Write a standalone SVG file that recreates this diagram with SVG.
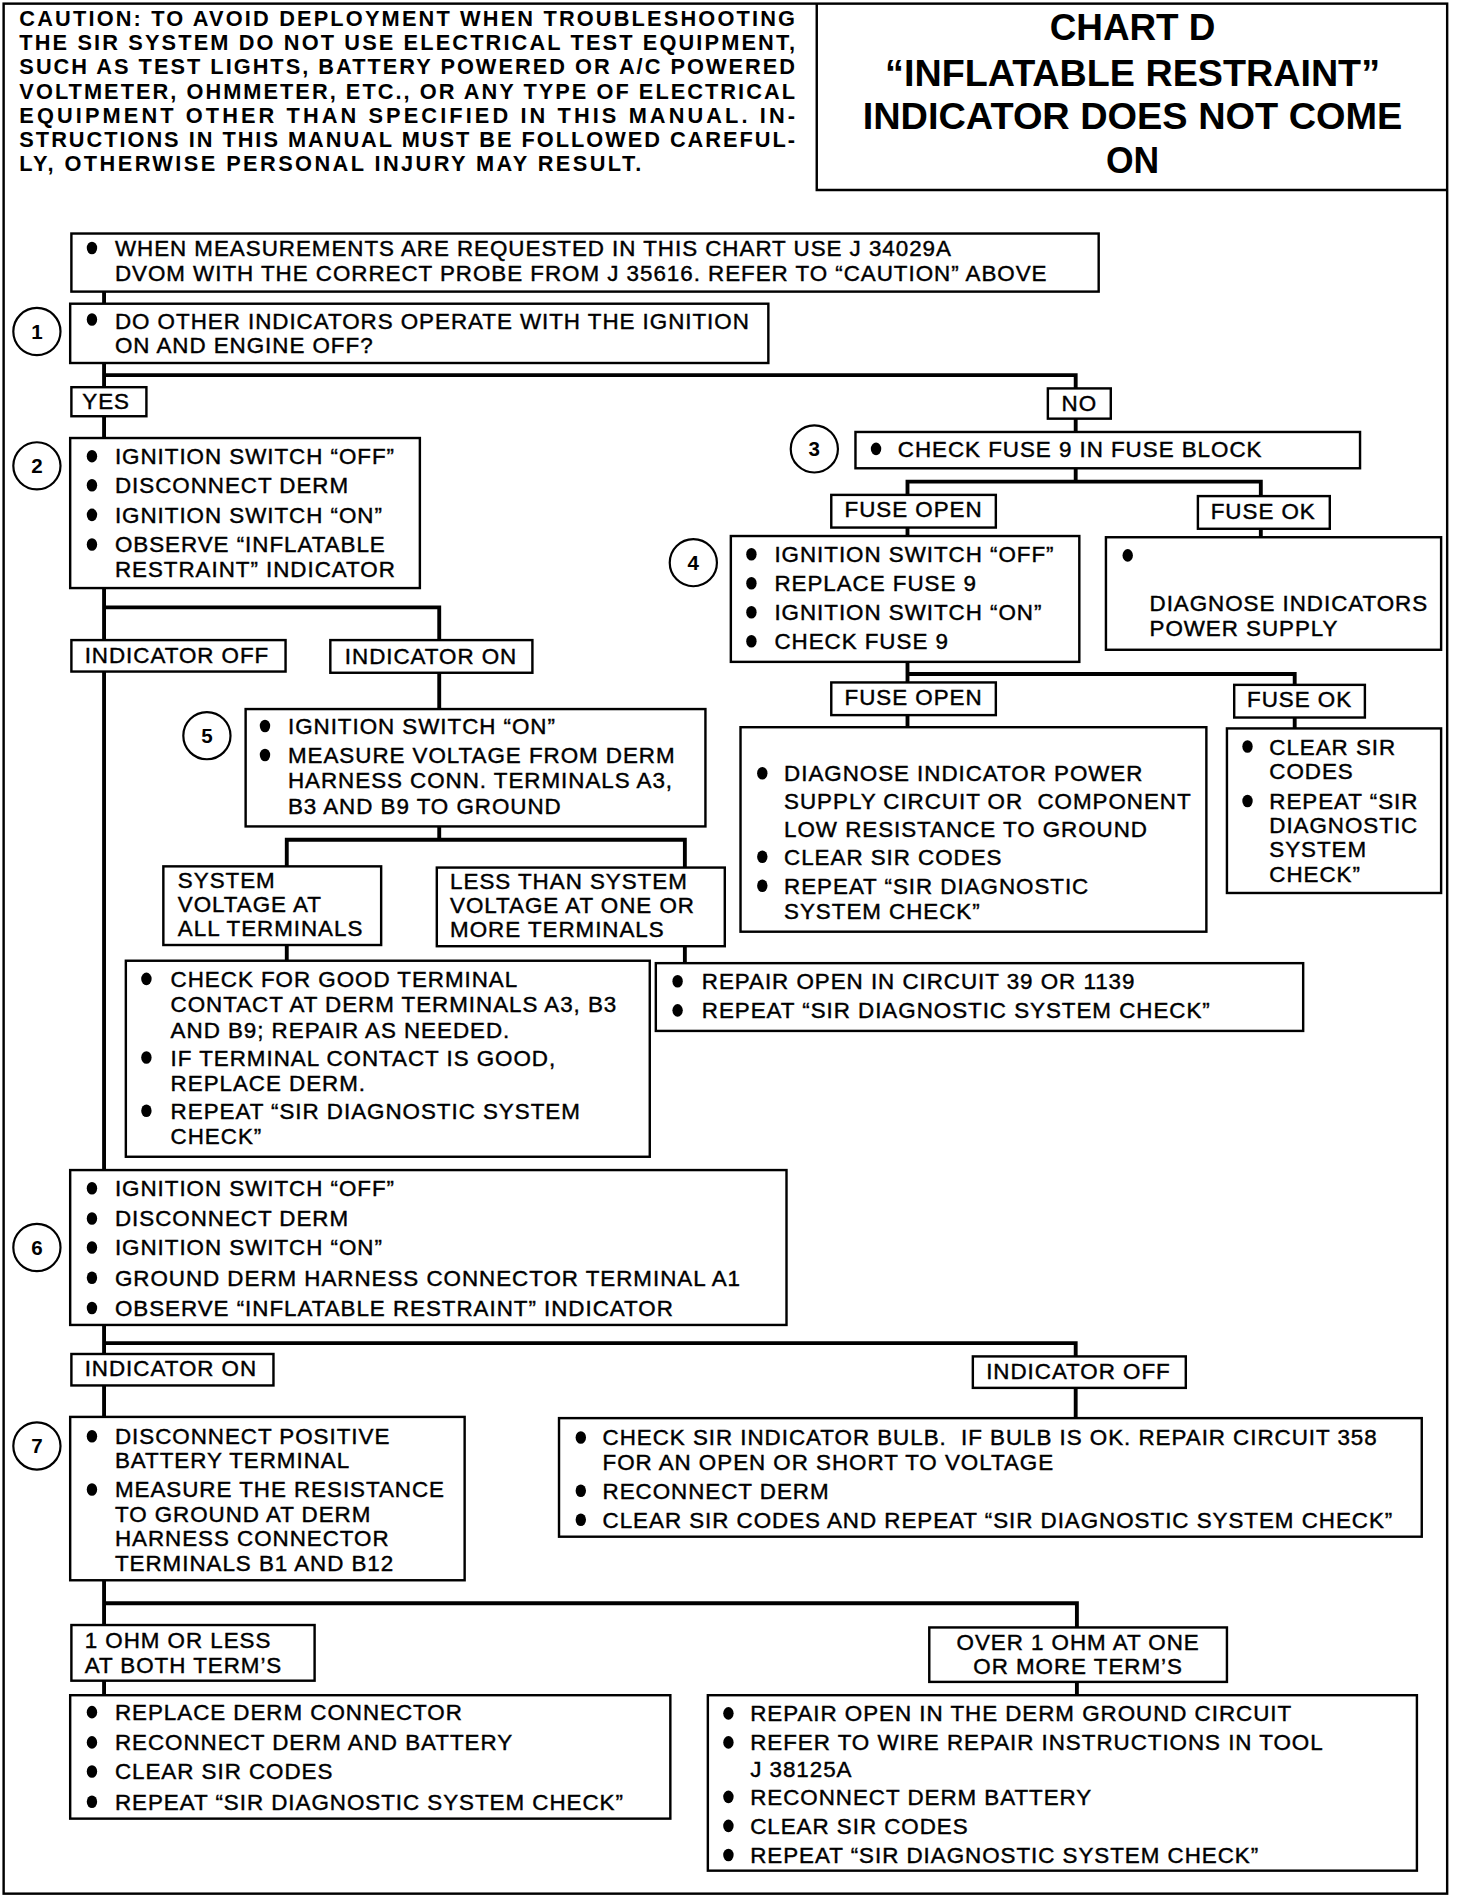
<svg xmlns="http://www.w3.org/2000/svg" width="1472" height="1900" viewBox="0 0 1472 1900">
<style>
.bx{fill:#fff;stroke:#000;stroke-width:2}
.fr{fill:none;stroke:#000;stroke-width:2}
.cn{fill:none;stroke:#000;stroke-width:3.2}
.t{font-family:"Liberation Sans",Arial,Helvetica,sans-serif;font-size:18.5px;letter-spacing:0.8px;fill:#000;stroke:#000;stroke-width:0.35px}
.tm{text-anchor:middle}
.cau{font-family:"Liberation Sans",Arial,Helvetica,sans-serif;font-size:18px;font-weight:bold;fill:#000}
.ttl{font-family:"Liberation Sans",Arial,Helvetica,sans-serif;font-size:31px;font-weight:bold;text-anchor:middle;fill:#000}
.num{font-family:"Liberation Sans",Arial,Helvetica,sans-serif;font-size:17px;font-weight:bold;text-anchor:middle;fill:#000}
.ring{fill:#fff;stroke:#000;stroke-width:1.8}
</style>
<defs><ellipse id="d" rx="4.3" ry="5.2" fill="#000"/></defs>
<rect width="1472" height="1900" fill="#fff"/>
<g transform="scale(1.21)">
<g id="frame">
<rect class="fr" x="3" y="3" width="1193" height="1562"/>
<path class="fr" d="M675 3V157H1196"/>
</g>
<g id="caution">
<text class="cau" x="16" y="21.5" textLength="641" lengthAdjust="spacing">CAUTION: TO AVOID DEPLOYMENT WHEN TROUBLESHOOTING</text>
<text class="cau" x="16" y="41.5" textLength="641" lengthAdjust="spacing">THE SIR SYSTEM DO NOT USE ELECTRICAL TEST EQUIPMENT,</text>
<text class="cau" x="16" y="61.5" textLength="641" lengthAdjust="spacing">SUCH AS TEST LIGHTS, BATTERY POWERED OR A/C POWERED</text>
<text class="cau" x="16" y="81.5" textLength="641" lengthAdjust="spacing">VOLTMETER, OHMMETER, ETC., OR ANY TYPE OF ELECTRICAL</text>
<text class="cau" x="16" y="101.5" textLength="641" lengthAdjust="spacing">EQUIPMENT OTHER THAN SPECIFIED IN THIS MANUAL. IN-</text>
<text class="cau" x="16" y="121.5" textLength="641" lengthAdjust="spacing">STRUCTIONS IN THIS MANUAL MUST BE FOLLOWED CAREFUL-</text>
<text class="cau" x="16" y="141.5" textLength="514" lengthAdjust="spacing">LY, OTHERWISE PERSONAL INJURY MAY RESULT.</text>
</g>
<g id="title">
<text class="ttl" x="936" y="33" textLength="137" lengthAdjust="spacingAndGlyphs">CHART D</text>
<text class="ttl" x="936" y="71" textLength="409" lengthAdjust="spacingAndGlyphs">“INFLATABLE RESTRAINT”</text>
<text class="ttl" x="936" y="107" textLength="446" lengthAdjust="spacingAndGlyphs">INDICATOR DOES NOT COME</text>
<text class="ttl" x="936" y="143" textLength="44" lengthAdjust="spacingAndGlyphs">ON</text>
</g>
<g id="connectors">
<path class="cn" d="M86 241V251"/>
<path class="cn" d="M86 300V320"/>
<path class="cn" d="M86 310H889V321"/>
<path class="cn" d="M86 344V362"/>
<path class="cn" d="M86 486V529"/>
<path class="cn" d="M86 502H363V529"/>
<path class="cn" d="M86 555V967"/>
<path class="cn" d="M363 556V586"/>
<path class="cn" d="M363 683V694"/>
<path class="cn" d="M237 716V694H566V717"/>
<path class="cn" d="M237 781V794"/>
<path class="cn" d="M566 782V796"/>
<path class="cn" d="M889 346V357"/>
<path class="cn" d="M889 387V398"/>
<path class="cn" d="M750 409V398H1042V410"/>
<path class="cn" d="M750 436V443"/>
<path class="cn" d="M1042 437V444"/>
<path class="cn" d="M750 547V564"/>
<path class="cn" d="M750 557H1070V566"/>
<path class="cn" d="M750 591V601"/>
<path class="cn" d="M1070 593V602"/>
<path class="cn" d="M86 1095V1119"/>
<path class="cn" d="M86 1110H889V1121"/>
<path class="cn" d="M86 1145V1171"/>
<path class="cn" d="M889 1147V1172"/>
<path class="cn" d="M86 1306V1343"/>
<path class="cn" d="M86 1325H890V1345"/>
<path class="cn" d="M86 1389V1401"/>
<path class="cn" d="M890 1390V1401"/>
</g>
<g id="nA">
<rect class="bx" x="59" y="193" width="849" height="48"/>
<use href="#d" x="76" y="205"/>
<text class="t" x="95" y="211.6">WHEN MEASUREMENTS ARE REQUESTED IN THIS CHART USE J 34029A</text>
<text class="t" x="95" y="232.6">DVOM WITH THE CORRECT PROBE FROM J 35616. REFER TO “CAUTION” ABOVE</text>
</g>
<g id="n1">
<rect class="bx" x="58" y="251" width="577" height="49"/>
<use href="#d" x="76" y="264"/>
<text class="t" x="95" y="271.6">DO OTHER INDICATORS OPERATE WITH THE IGNITION</text>
<text class="t" x="95" y="291.6">ON AND ENGINE OFF?</text>
<circle class="ring" cx="30.5" cy="274" r="19.5"/><text class="num" x="30.5" y="280">1</text>
</g>
<g id="yes"><rect class="bx" x="59" y="320" width="62" height="24"/><text class="t" x="68" y="338">YES</text></g>
<g id="no"><rect class="bx" x="866" y="321" width="52" height="25"/><text class="t tm" x="892" y="340">NO</text></g>
<g id="n2">
<rect class="bx" x="58" y="362" width="289" height="124"/>
<use href="#d" x="76" y="377"/><use href="#d" x="76" y="401"/><use href="#d" x="76" y="425.5"/><use href="#d" x="76" y="450"/>
<text class="t" x="95" y="383.6">IGNITION SWITCH “OFF”</text>
<text class="t" x="95" y="407.6">DISCONNECT DERM</text>
<text class="t" x="95" y="432.1">IGNITION SWITCH “ON”</text>
<text class="t" x="95" y="456.6">OBSERVE “INFLATABLE</text>
<text class="t" x="95" y="476.6">RESTRAINT” INDICATOR</text>
<circle class="ring" cx="30.5" cy="385" r="19.5"/><text class="num" x="30.5" y="391">2</text>
</g>
<g id="indOff1"><rect class="bx" x="59" y="529" width="177" height="26"/><text class="t" x="70" y="548">INDICATOR OFF</text></g>
<g id="indOn1"><rect class="bx" x="273" y="529" width="167" height="27"/><text class="t" x="285" y="549">INDICATOR ON</text></g>
<g id="n5">
<rect class="bx" x="203" y="586" width="380" height="97"/>
<use href="#d" x="219" y="600"/><use href="#d" x="219" y="624"/>
<text class="t" x="238" y="606.6">IGNITION SWITCH “ON”</text>
<text class="t" x="238" y="630.6">MEASURE VOLTAGE FROM DERM</text>
<text class="t" x="238" y="651.6">HARNESS CONN. TERMINALS A3,</text>
<text class="t" x="238" y="672.6">B3 AND B9 TO GROUND</text>
<circle class="ring" cx="171" cy="608" r="19.5"/><text class="num" x="171" y="614">5</text>
</g>
<g id="sysV">
<rect class="bx" x="135" y="716" width="180" height="65"/>
<text class="t" x="147" y="733.6">SYSTEM</text>
<text class="t" x="147" y="753.6">VOLTAGE AT</text>
<text class="t" x="147" y="773.6">ALL TERMINALS</text>
</g>
<g id="lessV">
<rect class="bx" x="361" y="717" width="238" height="65"/>
<text class="t" x="372" y="734.6">LESS THAN SYSTEM</text>
<text class="t" x="372" y="754.6">VOLTAGE AT ONE OR</text>
<text class="t" x="372" y="774.6">MORE TERMINALS</text>
</g>
<g id="nCheck">
<rect class="bx" x="104" y="794" width="433" height="162"/>
<use href="#d" x="121" y="809"/><use href="#d" x="121" y="874"/><use href="#d" x="121" y="918"/>
<text class="t" x="141" y="815.6">CHECK FOR GOOD TERMINAL</text>
<text class="t" x="141" y="836.6">CONTACT AT DERM TERMINALS A3, B3</text>
<text class="t" x="141" y="857.6">AND B9; REPAIR AS NEEDED.</text>
<text class="t" x="141" y="880.6">IF TERMINAL CONTACT IS GOOD,</text>
<text class="t" x="141" y="901.6">REPLACE DERM.</text>
<text class="t" x="141" y="924.6">REPEAT “SIR DIAGNOSTIC SYSTEM</text>
<text class="t" x="141" y="945.6">CHECK”</text>
</g>
<g id="nRepair39">
<rect class="bx" x="542" y="796" width="535" height="56"/>
<use href="#d" x="560" y="811"/><use href="#d" x="560" y="835"/>
<text class="t" x="580" y="817.6">REPAIR OPEN IN CIRCUIT 39 OR 1139</text>
<text class="t" x="580" y="841.6">REPEAT “SIR DIAGNOSTIC SYSTEM CHECK”</text>
</g>
<g id="n3">
<rect class="bx" x="707" y="357" width="417" height="30"/>
<use href="#d" x="724" y="371"/>
<text class="t" x="742" y="377.6">CHECK FUSE 9 IN FUSE BLOCK</text>
<circle class="ring" cx="673" cy="371" r="19.5"/><text class="num" x="673" y="377">3</text>
</g>
<g id="fuseOpen1"><rect class="bx" x="687" y="409" width="136" height="27"/><text class="t tm" x="755" y="427.6">FUSE OPEN</text></g>
<g id="fuseOk1"><rect class="bx" x="990" y="410" width="109" height="27"/><text class="t tm" x="1044" y="428.6">FUSE OK</text></g>
<g id="n4">
<rect class="bx" x="604" y="443" width="288" height="104"/>
<use href="#d" x="621" y="458"/><use href="#d" x="621" y="482"/><use href="#d" x="621" y="506"/><use href="#d" x="621" y="530"/>
<text class="t" x="640" y="464.6">IGNITION SWITCH “OFF”</text>
<text class="t" x="640" y="488.6">REPLACE FUSE 9</text>
<text class="t" x="640" y="512.6">IGNITION SWITCH “ON”</text>
<text class="t" x="640" y="536.6">CHECK FUSE 9</text>
<circle class="ring" cx="573" cy="465" r="19.5"/><text class="num" x="573" y="471">4</text>
</g>
<g id="nDiagInd">
<rect class="bx" x="914" y="444" width="277" height="93"/>
<use href="#d" x="932" y="459"/>
<text class="t" x="950" y="504.6">DIAGNOSE INDICATORS</text>
<text class="t" x="950" y="525.6">POWER SUPPLY</text>
</g>
<g id="fuseOpen2"><rect class="bx" x="687" y="564" width="136" height="27"/><text class="t tm" x="755" y="582.6">FUSE OPEN</text></g>
<g id="fuseOk2"><rect class="bx" x="1020" y="566" width="108" height="27"/><text class="t tm" x="1074" y="584.6">FUSE OK</text></g>
<g id="nDiagPow">
<rect class="bx" x="612" y="601" width="385" height="169"/>
<use href="#d" x="630" y="639"/><use href="#d" x="630" y="708"/><use href="#d" x="630" y="732"/>
<text class="t" x="648" y="645.6">DIAGNOSE INDICATOR POWER</text>
<text class="t" x="648" y="668.6" xml:space="preserve">SUPPLY CIRCUIT OR  COMPONENT</text>
<text class="t" x="648" y="691.6">LOW RESISTANCE TO GROUND</text>
<text class="t" x="648" y="714.6">CLEAR SIR CODES</text>
<text class="t" x="648" y="738.6">REPEAT “SIR DIAGNOSTIC</text>
<text class="t" x="648" y="759.6">SYSTEM CHECK”</text>
</g>
<g id="nClearSir">
<rect class="bx" x="1014" y="602" width="177" height="136"/>
<use href="#d" x="1031" y="617"/><use href="#d" x="1031" y="662"/>
<text class="t" x="1049" y="623.6">CLEAR SIR</text>
<text class="t" x="1049" y="643.6">CODES</text>
<text class="t" x="1049" y="668.6">REPEAT “SIR</text>
<text class="t" x="1049" y="688.6">DIAGNOSTIC</text>
<text class="t" x="1049" y="708.6">SYSTEM</text>
<text class="t" x="1049" y="728.6">CHECK”</text>
</g>
<g id="n6">
<rect class="bx" x="58" y="967" width="592" height="128"/>
<use href="#d" x="76" y="982"/><use href="#d" x="76" y="1007"/><use href="#d" x="76" y="1031"/><use href="#d" x="76" y="1056"/><use href="#d" x="76" y="1081"/>
<text class="t" x="95" y="988.6">IGNITION SWITCH “OFF”</text>
<text class="t" x="95" y="1013.6">DISCONNECT DERM</text>
<text class="t" x="95" y="1037.6">IGNITION SWITCH “ON”</text>
<text class="t" x="95" y="1062.6">GROUND DERM HARNESS CONNECTOR TERMINAL A1</text>
<text class="t" x="95" y="1087.6">OBSERVE “INFLATABLE RESTRAINT” INDICATOR</text>
<circle class="ring" cx="30.5" cy="1031" r="19.5"/><text class="num" x="30.5" y="1037">6</text>
</g>
<g id="indOn2"><rect class="bx" x="59" y="1119" width="167" height="26"/><text class="t" x="70" y="1137.6">INDICATOR ON</text></g>
<g id="indOff2"><rect class="bx" x="804" y="1121" width="176" height="26"/><text class="t" x="815" y="1139.6">INDICATOR OFF</text></g>
<g id="n7">
<rect class="bx" x="58" y="1171" width="326" height="135"/>
<use href="#d" x="76" y="1187"/><use href="#d" x="76" y="1231"/>
<text class="t" x="95" y="1193.6">DISCONNECT POSITIVE</text>
<text class="t" x="95" y="1213.6">BATTERY TERMINAL</text>
<text class="t" x="95" y="1237.6">MEASURE THE RESISTANCE</text>
<text class="t" x="95" y="1257.6">TO GROUND AT DERM</text>
<text class="t" x="95" y="1277.6">HARNESS CONNECTOR</text>
<text class="t" x="95" y="1298.6">TERMINALS B1 AND B12</text>
<circle class="ring" cx="30.5" cy="1195" r="19.5"/><text class="num" x="30.5" y="1201">7</text>
</g>
<g id="nBulb">
<rect class="bx" x="462" y="1172" width="713" height="98"/>
<use href="#d" x="480" y="1188"/><use href="#d" x="480" y="1232"/><use href="#d" x="480" y="1256"/>
<text class="t" x="498" y="1194.6" xml:space="preserve">CHECK SIR INDICATOR BULB.  IF BULB IS OK. REPAIR CIRCUIT 358</text>
<text class="t" x="498" y="1214.6">FOR AN OPEN OR SHORT TO VOLTAGE</text>
<text class="t" x="498" y="1238.6">RECONNECT DERM</text>
<text class="t" x="498" y="1262.6">CLEAR SIR CODES AND REPEAT “SIR DIAGNOSTIC SYSTEM CHECK”</text>
</g>
<g id="ohmLess">
<rect class="bx" x="59" y="1343" width="201" height="46"/>
<text class="t" x="70" y="1361.6">1 OHM OR LESS</text>
<text class="t" x="70" y="1382.6">AT BOTH TERM’S</text>
</g>
<g id="ohmOver">
<rect class="bx" x="768" y="1345" width="246" height="45"/>
<text class="t tm" x="891" y="1363.6">OVER 1 OHM AT ONE</text>
<text class="t tm" x="891" y="1383.6">OR MORE TERM’S</text>
</g>
<g id="nReplace">
<rect class="bx" x="58" y="1401" width="496" height="102"/>
<use href="#d" x="76" y="1415"/><use href="#d" x="76" y="1440"/><use href="#d" x="76" y="1464"/><use href="#d" x="76" y="1489"/>
<text class="t" x="95" y="1421.6">REPLACE DERM CONNECTOR</text>
<text class="t" x="95" y="1446.6">RECONNECT DERM AND BATTERY</text>
<text class="t" x="95" y="1470.6">CLEAR SIR CODES</text>
<text class="t" x="95" y="1495.6">REPEAT “SIR DIAGNOSTIC SYSTEM CHECK”</text>
</g>
<g id="nRepairGround">
<rect class="bx" x="585" y="1401" width="586" height="145"/>
<use href="#d" x="602" y="1416"/><use href="#d" x="602" y="1440"/><use href="#d" x="602" y="1485"/><use href="#d" x="602" y="1509"/><use href="#d" x="602" y="1533"/>
<text class="t" x="620" y="1422.6">REPAIR OPEN IN THE DERM GROUND CIRCUIT</text>
<text class="t" x="620" y="1446.6">REFER TO WIRE REPAIR INSTRUCTIONS IN TOOL</text>
<text class="t" x="620" y="1468.6">J 38125A</text>
<text class="t" x="620" y="1491.6">RECONNECT DERM BATTERY</text>
<text class="t" x="620" y="1515.6">CLEAR SIR CODES</text>
<text class="t" x="620" y="1539.6">REPEAT “SIR DIAGNOSTIC SYSTEM CHECK”</text>
</g>
</g>
</svg>
